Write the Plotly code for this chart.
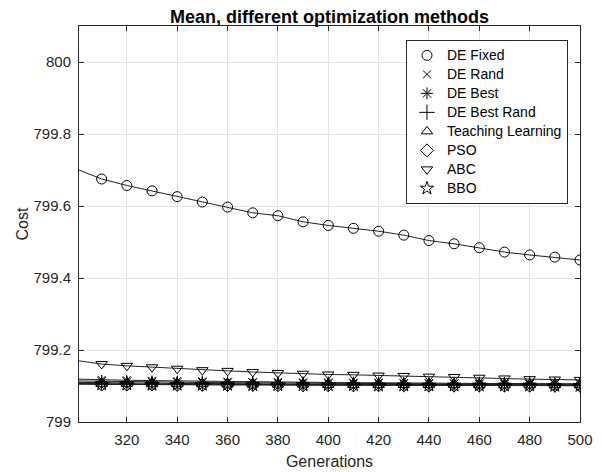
import plotly.graph_objects as go

generations = [301] + list(range(310, 501, 10))

de_fixed = [799.700, 799.675, 799.657, 799.642, 799.626, 799.611, 799.597, 799.581, 799.573,
            799.556, 799.546, 799.538, 799.530, 799.519, 799.504, 799.495, 799.484, 799.472,
            799.464, 799.458, 799.450]
de_rand = [799.119, 799.117, 799.116, 799.115, 799.114, 799.113, 799.112, 799.111, 799.111,
           799.110, 799.110, 799.109, 799.109, 799.108, 799.108, 799.107, 799.107, 799.107,
           799.106, 799.106, 799.106]
de_best = [799.114, 799.113, 799.112, 799.111, 799.110, 799.110, 799.109, 799.109, 799.108,
           799.108, 799.107, 799.107, 799.107, 799.106, 799.106, 799.106, 799.105, 799.105,
           799.105, 799.105, 799.105]
de_best_rand = [799.110, 799.109, 799.108, 799.108, 799.107, 799.107, 799.106, 799.106, 799.106,
                799.105, 799.105, 799.105, 799.105, 799.104, 799.104, 799.104, 799.104, 799.104,
                799.104, 799.103, 799.103]
teaching = [799.107, 799.106, 799.106, 799.105, 799.105, 799.105, 799.104, 799.104, 799.104,
            799.104, 799.103, 799.103, 799.103, 799.103, 799.103, 799.103, 799.102, 799.102,
            799.102, 799.102, 799.102]
pso = [799.105, 799.104, 799.104, 799.104, 799.103, 799.103, 799.103, 799.103, 799.102,
       799.102, 799.102, 799.102, 799.102, 799.102, 799.101, 799.101, 799.101, 799.101,
       799.101, 799.101, 799.101]
abc = [799.170, 799.161, 799.156, 799.152, 799.148, 799.144, 799.142, 799.139, 799.136,
       799.134, 799.132, 799.131, 799.129, 799.128, 799.126, 799.125, 799.123, 799.121,
       799.119, 799.118, 799.117]
bbo = [799.106, 799.105, 799.105, 799.104, 799.104, 799.104, 799.104, 799.103, 799.103,
       799.103, 799.103, 799.103, 799.102, 799.102, 799.102, 799.102, 799.102, 799.102,
       799.102, 799.101, 799.101]

series_names = ["DE Fixed", "DE Rand", "DE Best", "DE Best Rand", "Teaching Learning", "PSO", "ABC", "BBO"]
series_values = [de_fixed, de_rand, de_best, de_best_rand, teaching, pso, abc, bbo]
symbols = ["circle-open", "x-thin-open", "asterisk-open", "cross-thin-open",
           "triangle-up-open", "diamond-open", "triangle-down-open", "star-open"]
sizes = [10, 8, 10, 11, 10, 10, 10, 10]

FONT = "Liberation Sans, Arial"

fig = go.Figure()
# continuous lines
for name, vals in zip(series_names, series_values):
    fig.add_trace(go.Scatter(x=generations, y=vals, mode="lines",
                             line=dict(color="#222222", width=1), showlegend=False,
                             hoverinfo="skip"))
# markers every 10 generations
for name, vals, sym, sz in zip(series_names, series_values, symbols, sizes):
    fig.add_trace(go.Scatter(x=generations[1:], y=vals[1:], mode="markers",
                             name='<span style="font-size:14px">' + name + '</span>',
                             marker=dict(symbol=sym, size=sz, color="black",
                                         line=dict(color="black", width=1))))

axis_common = dict(showgrid=True, gridcolor="#e3e3e3", gridwidth=1, zeroline=False,
                   showline=True, linecolor="#262626", linewidth=1, mirror="ticks",
                   ticks="inside", ticklen=5, tickcolor="#262626", automargin=False,
                   tickfont=dict(family=FONT, size=15, color="#262626"))

fig.update_layout(
    width=602, height=472,
    margin=dict(l=79, r=22, t=26, b=50),
    paper_bgcolor="white", plot_bgcolor="white",
    title=dict(text="<b>Mean, different optimization methods</b>", x=0.5, xref="paper",
               xanchor="center", y=0.964, yanchor="middle",
               font=dict(family=FONT, size=18, color="black")),
    xaxis=dict(range=[301, 500], tickvals=list(range(320, 501, 20)),
               ticklabelstandoff=4,
               title=dict(text="Generations", standoff=8,
                          font=dict(family=FONT, size=16, color="#262626")),
               **axis_common),
    yaxis=dict(range=[799, 800.1], tickvals=[799, 799.2, 799.4, 799.6, 799.8, 800],
               ticktext=["799", "799.2", "799.4", "799.6", "799.8", "800"],
               ticklabelstandoff=4,
               title=dict(text="Cost", standoff=0,
                          font=dict(family=FONT, size=16, color="#262626")),
               **axis_common),
    legend=dict(x=0.976, y=0.965, xanchor="right", yanchor="top",
                bgcolor="white", bordercolor="#262626", borderwidth=1,
                font=dict(family=FONT, size=12, color="black"),
                tracegroupgap=0),
)

fig.write_html("out.html")
